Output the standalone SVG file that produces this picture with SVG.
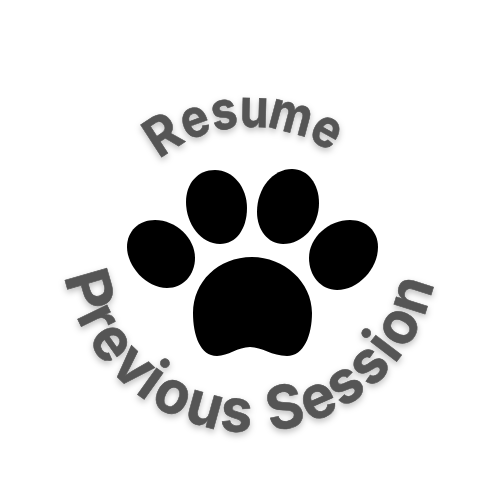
<svg xmlns="http://www.w3.org/2000/svg" width="500" height="500" viewBox="0 0 500 500">
<style>
.t{font-family:Inter,"Liberation Sans",sans-serif;font-weight:700;fill:#555;stroke:#555;stroke-width:.6px;text-anchor:middle}
.a{font-size:53px}
.b{font-size:60px}
.p{fill:#000}
</style>
<defs>
<filter id="s" x="-10%" y="-10%" width="120%" height="125%"><feDropShadow dx="0" dy="3" stdDeviation="3" flood-color="#000" flood-opacity="0.25"/></filter>
</defs>
<rect width="500" height="500" fill="#fff"/>
<g id="paw">
<path class="p" d="M193 313C193 335 200 356 217 356C228 356 238 347 250 347C262 347 272 356 287 356C304 356 312 335 312 313C312 282 284 257 252 257C218 257 193 282 193 313Z"/>
<path class="p" d="M155 220C176 220 195 238 195 258C195 275 183 288 167 288C146 288 127 266 127 247C127 231 139 220 155 220Z"/>
<path class="p" d="M215 170C233 170 247 187 247 208C247 229 236 244 220 244C201 244 186 224 186 202C186 183 198 170 215 170Z"/>
<path class="p" d="M292 169C308 169 319 184 319 203C319 226 303 244 283 244C268 244 257 230 257 212C257 188 273 169 292 169Z"/>
<path class="p" d="M350 220C366 220 378 231 378 247C378 269 358 290 337 290C321 290 309 276 309 258C309 237 329 220 350 220Z"/>
</g>
<g id="resume" class="t a" filter="url(#s)">
<text transform="rotate(-33 250 269) translate(250 127) scale(.95 1)">R</text>
<text transform="rotate(-20.5 250 269) translate(250 127) scale(.88 1)">e</text>
<text transform="rotate(-9.5 250 269) translate(250 127) scale(.88 1)">s</text>
<text transform="rotate(1.5 250 269) translate(250 127) scale(.88 1)">u</text>
<text transform="rotate(15 250 269) translate(250 127) scale(.88 1)">m</text>
<text transform="rotate(29 250 269) translate(250 127) scale(.88 1)">e</text>
</g>
<g id="previous-session" class="t b" filter="url(#s)">
<text transform="rotate(74 250 244) translate(250 432) scale(1.05 1)">P</text>
<text transform="rotate(64 250 244) translate(250 432) scale(.95 1)">r</text>
<text transform="rotate(54.5 250 244) translate(250 432) scale(.95 1)">e</text>
<text transform="rotate(43.5 250 244) translate(250 432) scale(.95 1)">v</text>
<text transform="rotate(35.5 250 244) translate(250 432) scale(.95 1)">i</text>
<text transform="rotate(27 250 244) translate(250 432) scale(.95 1)">o</text>
<text transform="rotate(15.5 250 244) translate(250 432) scale(.95 1)">u</text>
<text transform="rotate(4.5 250 244) translate(250 432) scale(.95 1)">s</text>
<text transform="rotate(-12 250 244) translate(250 432) scale(.95 1)">S</text>
<text transform="rotate(-23.5 250 244) translate(250 432) scale(.95 1)">e</text>
<text transform="rotate(-34 250 244) translate(250 432) scale(.95 1)">s</text>
<text transform="rotate(-44.5 250 244) translate(250 432) scale(.95 1)">s</text>
<text transform="rotate(-52.5 250 244) translate(250 432) scale(.95 1)">i</text>
<text transform="rotate(-61 250 244) translate(250 432) scale(.95 1)">o</text>
<text transform="rotate(-72.5 250 244) translate(250 432) scale(.95 1)">n</text>
</g>
</svg>
